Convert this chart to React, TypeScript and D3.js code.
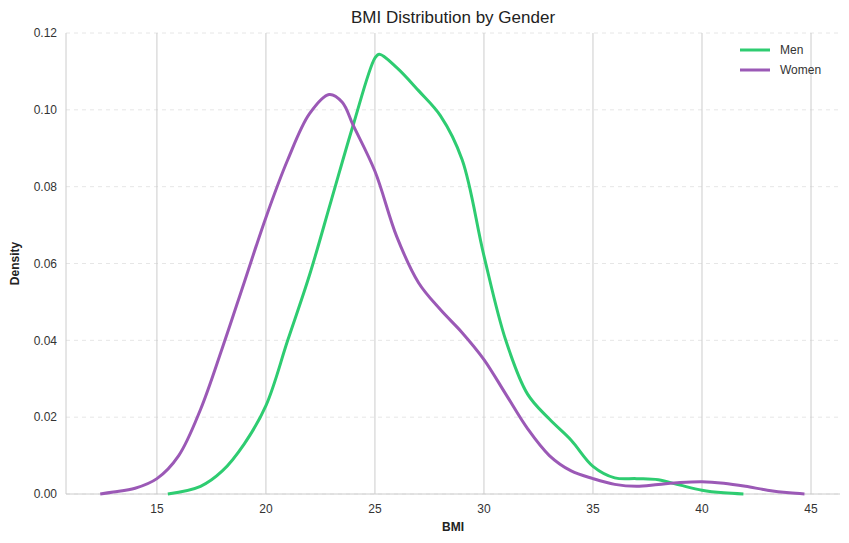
import * as d3 from 'd3';

const xTicks = [15, 20, 25, 30, 35, 40, 45];
const yTicks = [0, 0.02, 0.04, 0.06, 0.08, 0.1, 0.12];

const menBmi = [15.5, 17, 18, 19, 20, 21, 22, 23, 24, 25, 25.2, 26, 27, 28, 29, 30, 31, 32, 33, 34, 35, 36, 37, 38, 39, 40, 41, 41.9];
const menDensity = [0.0, 0.002, 0.006, 0.013, 0.023, 0.04, 0.057, 0.0765, 0.096, 0.1135, 0.1145, 0.111, 0.105, 0.0985, 0.087, 0.062, 0.04, 0.026, 0.0195, 0.014, 0.0072, 0.0042, 0.004, 0.0037, 0.0023, 0.001, 0.0003, 0.0];

const womenBmi = [12.4, 13, 14, 15, 16, 17, 18, 19, 20, 21, 22, 22.9, 23.5, 24, 25, 26, 27, 28, 29, 30, 31, 32, 33, 34, 35, 36, 37, 38, 39, 40, 41, 42, 43, 44, 44.7];
const womenDensity = [0.0, 0.0005, 0.0015, 0.004, 0.01, 0.022, 0.038, 0.055, 0.072, 0.087, 0.099, 0.104, 0.102, 0.096, 0.084, 0.067, 0.055, 0.048, 0.042, 0.035, 0.026, 0.017, 0.01, 0.006, 0.004, 0.0025, 0.002, 0.0025, 0.003, 0.0032, 0.0028, 0.002, 0.001, 0.0003, 0.0];

const series = [
  { name: 'Men', color: '#2ecc71', xs: menBmi, ys: menDensity },
  { name: 'Women', color: '#9b59b6', xs: womenBmi, ys: womenDensity },
];

const W = 849, H = 543;
const m = { left: 66, right: 9, top: 33, bottom: 49 };
const font = '"Liberation Sans", Arial, sans-serif';

export default function App() {
  const x = d3.scaleLinear().domain([10.83, 46.33]).range([m.left, W - m.right]);
  const y = d3.scaleLinear().domain([0, 0.12]).range([H - m.bottom, m.top]);
  const line = d3.line<[number, number]>().x(d => x(d[0])).y(d => y(d[1])).curve(d3.curveCatmullRom);
  return (
    <svg width={W} height={H} style={{ position: 'absolute', left: 0, top: 0, background: '#fff' }} fontFamily={font}>
      {yTicks.map(t => (
        <g key={t}>
          <line x1={m.left} x2={W - m.right} y1={y(t)} y2={y(t)} stroke="#e6e6e6" strokeDasharray="4,4" />
          <text x={m.left - 9} y={y(t)} dy="0.35em" textAnchor="end" fontSize={12} fill="#333">{t.toFixed(2)}</text>
        </g>
      ))}
      {xTicks.map(t => (
        <g key={t}>
          <line x1={x(t)} x2={x(t)} y1={m.top} y2={H - m.bottom} stroke="#cccccc" />
          <text x={x(t)} y={H - m.bottom + 19} textAnchor="middle" fontSize={12} fill="#333">{t}</text>
        </g>
      ))}
      <line x1={m.left} x2={m.left} y1={m.top} y2={H - m.bottom} stroke="#cccccc" />
      <line x1={m.left} x2={W - m.right} y1={H - m.bottom} y2={H - m.bottom} stroke="#cccccc" />
      {series.map(s => (
        <path key={s.name} d={line(s.xs.map((v, i) => [v, s.ys[i]] as [number, number])) || ''} fill="none" stroke={s.color} strokeWidth={3} />
      ))}
      <text x={(m.left + W - m.right) / 2} y={23} textAnchor="middle" fontSize={17} fill="#222">BMI Distribution by Gender</text>
      <text x={(m.left + W - m.right) / 2} y={531} textAnchor="middle" fontSize={12} fontWeight="bold" fill="#222">BMI</text>
      <text transform={`translate(19,${(m.top + H - m.bottom) / 2}) rotate(-90)`} textAnchor="middle" fontSize={12} fontWeight="bold" fill="#222">Density</text>
      {series.map((s, i) => (
        <g key={s.name} transform={`translate(740,${50 + i * 20})`}>
          <line x1={0} x2={30} y1={0} y2={0} stroke={s.color} strokeWidth={3} />
          <text x={40} y={0} dy="0.35em" fontSize={12} fill="#333">{s.name}</text>
        </g>
      ))}
    </svg>
  );
}
